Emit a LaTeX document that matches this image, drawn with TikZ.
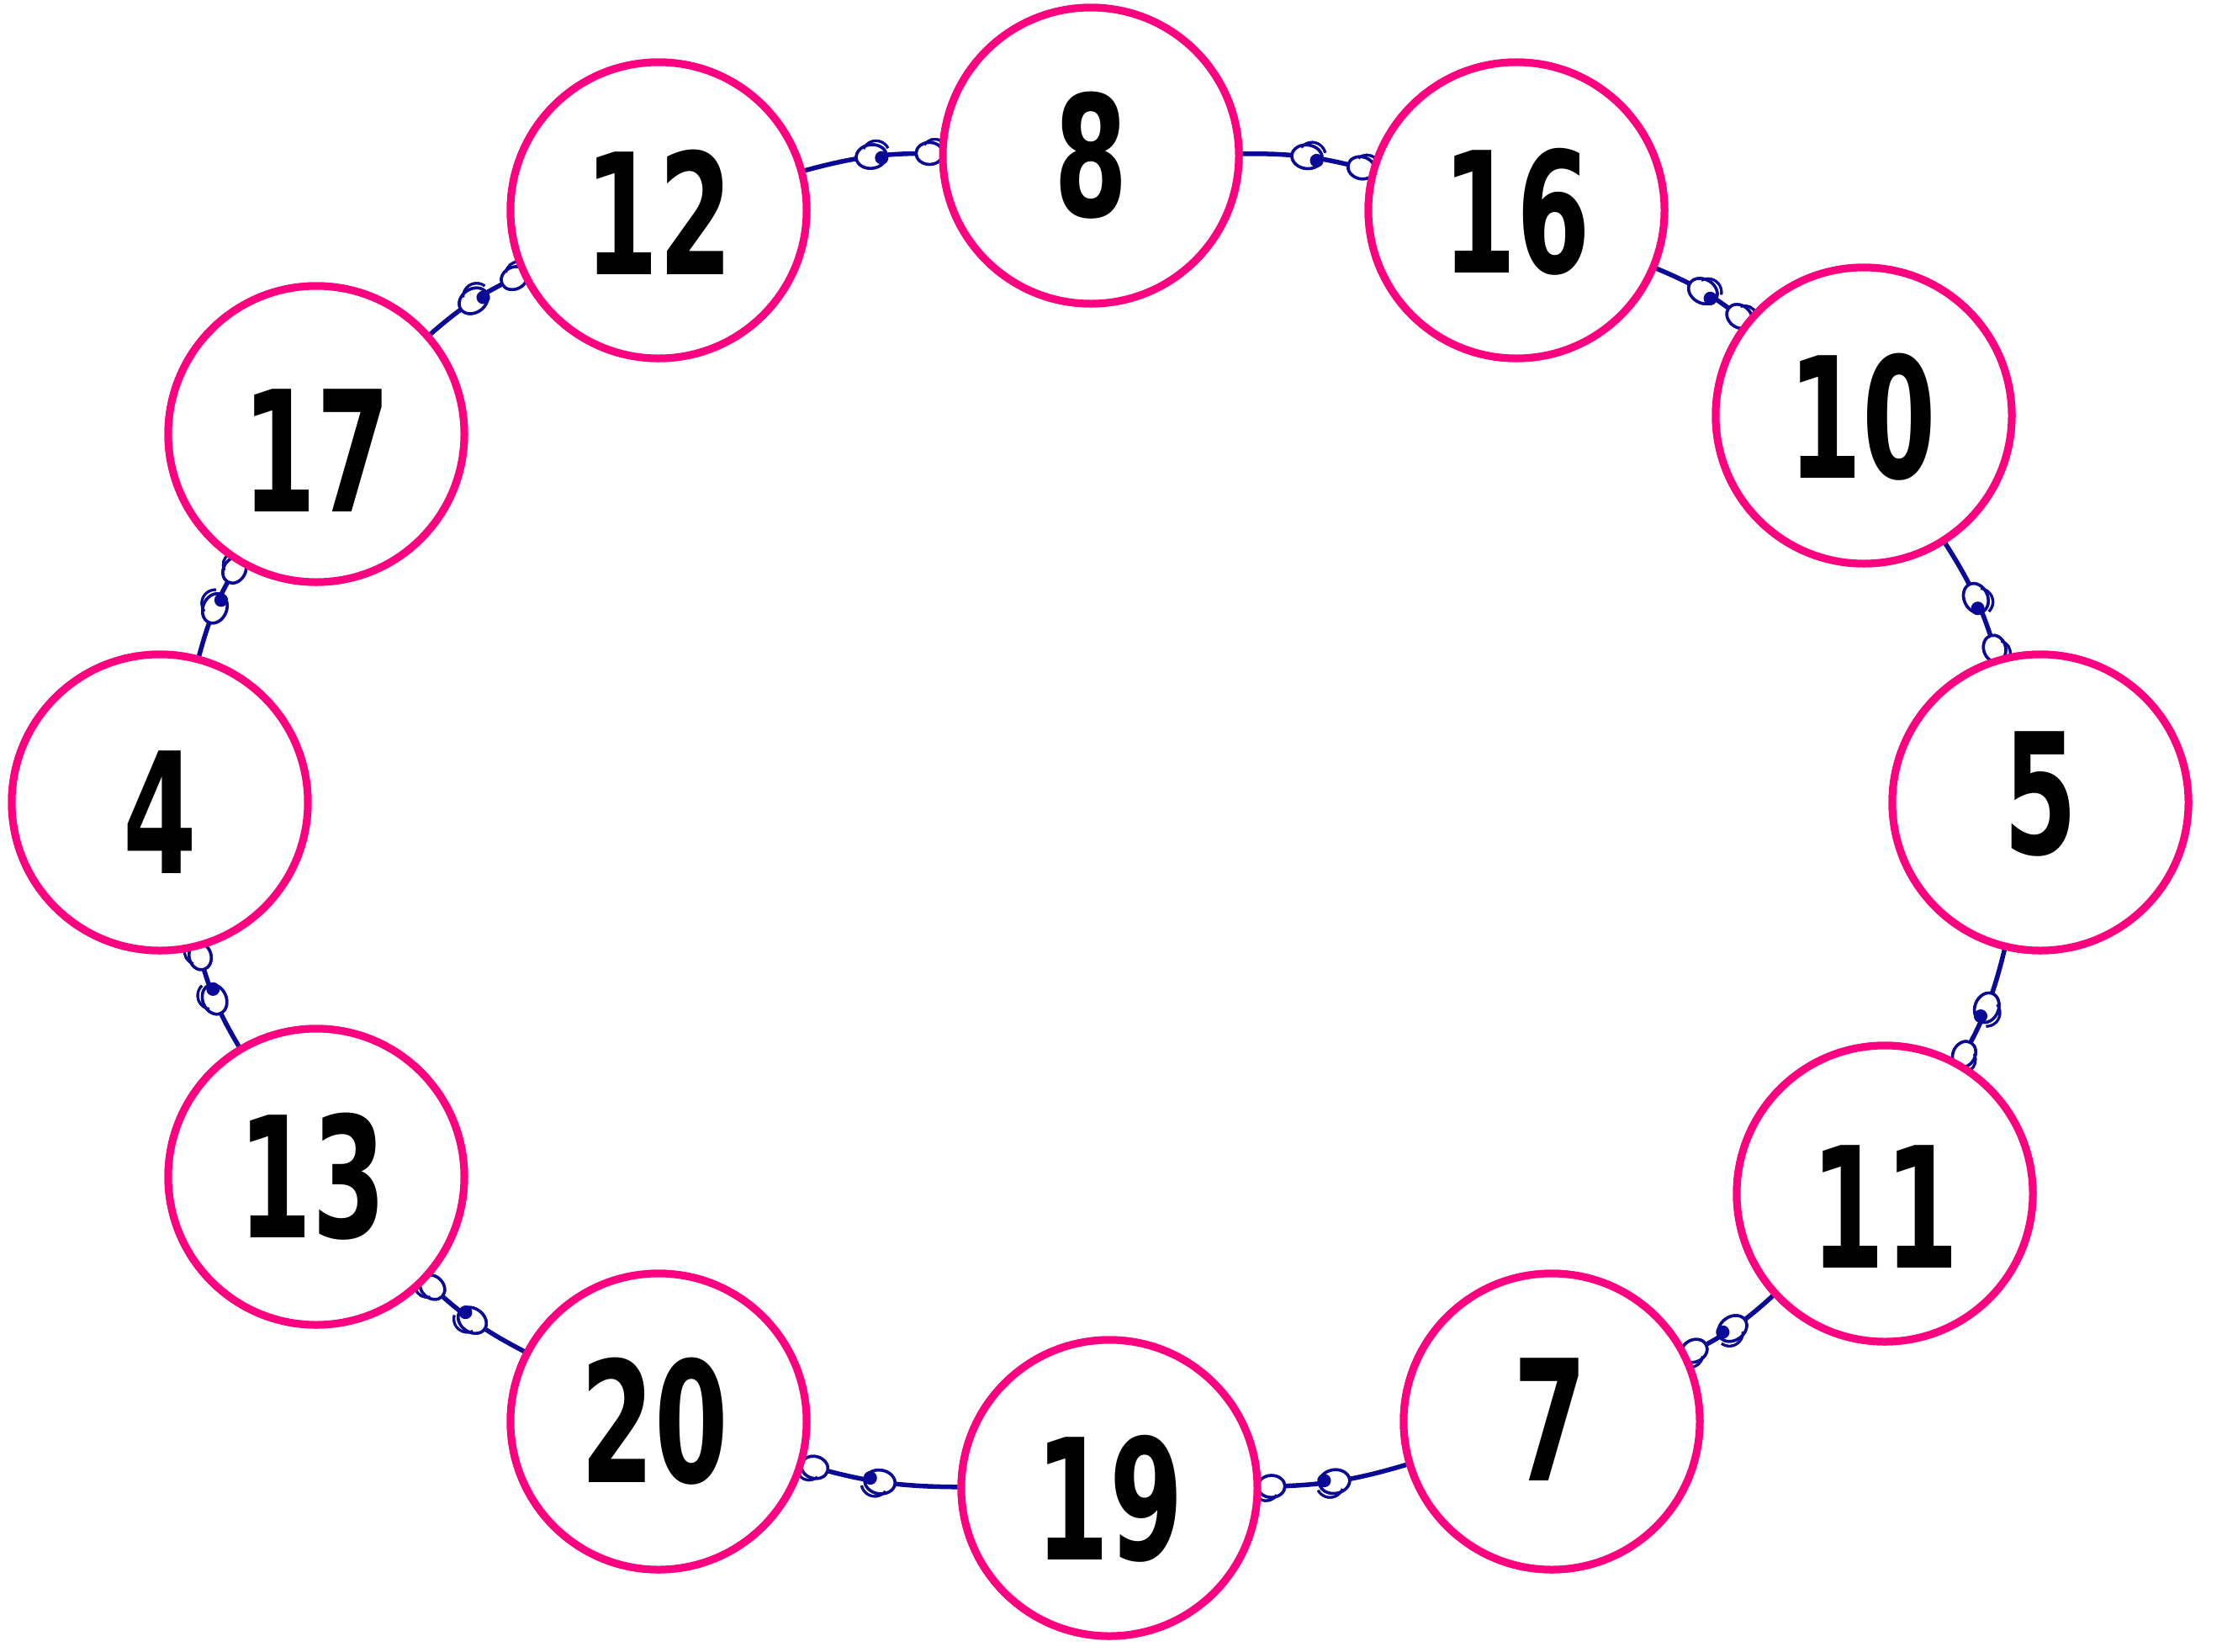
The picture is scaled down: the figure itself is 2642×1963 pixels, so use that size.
\documentclass[tikz,border=0pt]{standalone}
\usepackage{fontspec}
\newfontfamily\numfont{DejaVu Sans Condensed}
\usetikzlibrary{decorations.markings}
\definecolor{ringpink}{RGB}{255,0,128}
\definecolor{linkblue}{RGB}{10,10,150}
\tikzset{
  vert/.style={circle, draw=ringpink, line width=9pt, minimum size=352pt, inner sep=0pt, fill=white},
  num/.style={font=\numfont\bfseries\fontsize{200}{200}\selectfont},
  loopmid/.style={decoration={markings,
     mark=at position 0.5 with {\draw[linkblue, line width=3.5pt, fill=white] (0,0) ellipse (18pt and 14pt); \draw[linkblue, line width=3pt] (-8pt,10pt) arc (150:20:16pt); \fill[linkblue] (12pt,-3pt) circle (8pt);}},
     postaction=decorate},
  loopend/.style={decoration={markings,
     mark=at position 0.93 with {\draw[linkblue, line width=3.5pt, fill=white] (0,0) ellipse (16pt and 13pt); \draw[linkblue, line width=3pt] (-6pt,10pt) arc (150:20:14pt);}},
     postaction=decorate},
  link/.style={draw=linkblue, line width=5.5pt, bend left=8, loopmid, loopend},
}
\newcommand{\lbl}[1]{\scalebox{0.7}[1]{#1}}
\begin{document}
\begin{tikzpicture}[x=1pt,y=-1pt]
\useasboundingbox (0,0) rectangle (2642,1963);
\fill[white] (0,0) rectangle (2642,1963);
\node[vert] (n8) at (1297,185) {};
\node[vert] (n12) at (783,250) {};
\node[vert] (n16) at (1803,250) {};
\node[vert] (n10) at (2216,494) {};
\node[vert] (n17) at (376,516) {};
\node[vert] (n4) at (190,954) {};
\node[vert] (n5) at (2426,954) {};
\node[vert] (n13) at (376,1399) {};
\node[vert] (n11) at (2241,1419) {};
\node[vert] (n20) at (783,1690) {};
\node[vert] (n7) at (1845,1690) {};
\node[vert] (n19) at (1319,1769) {};
\path[link] (n8) to (n16);
\path[link] (n16) to (n10);
\path[link] (n10) to (n5);
\path[link] (n5) to (n11);
\path[link] (n11) to (n7);
\path[link] (n7) to (n19);
\path[link] (n19) to (n20);
\path[link] (n20) to (n13);
\path[link] (n13) to (n4);
\path[link] (n4) to (n17);
\path[link] (n17) to (n12);
\path[link] (n12) to (n8);
\node[vert] at (n8) {};
\node[vert] at (n12) {};
\node[vert] at (n16) {};
\node[vert] at (n10) {};
\node[vert] at (n17) {};
\node[vert] at (n4) {};
\node[vert] at (n5) {};
\node[vert] at (n13) {};
\node[vert] at (n11) {};
\node[vert] at (n20) {};
\node[vert] at (n7) {};
\node[vert] at (n19) {};
\node[num] (t8) at (1297,185) {\lbl{8}};
\node[num] (t12) at (783,252) {\lbl{12}};
\node[num] (t16) at (1803,252) {\lbl{16}};
\node[num] (t10) at (2214,496) {\lbl{10}};
\node[num] (t17) at (376,536) {\lbl{17}};
\node[num] (t4) at (190,966) {\lbl{4}};
\node[num] (t5) at (2426,944) {\lbl{5}};
\node[num] (t13) at (371,1399) {\lbl{13}};
\node[num] (t11) at (2241,1435) {\lbl{11}};
\node[num] (t20) at (778,1690) {\lbl{20}};
\node[num] (t7) at (1843,1688) {\lbl{7}};
\node[num] (t19) at (1319,1782) {\lbl{19}};
\end{tikzpicture}
\end{document}
